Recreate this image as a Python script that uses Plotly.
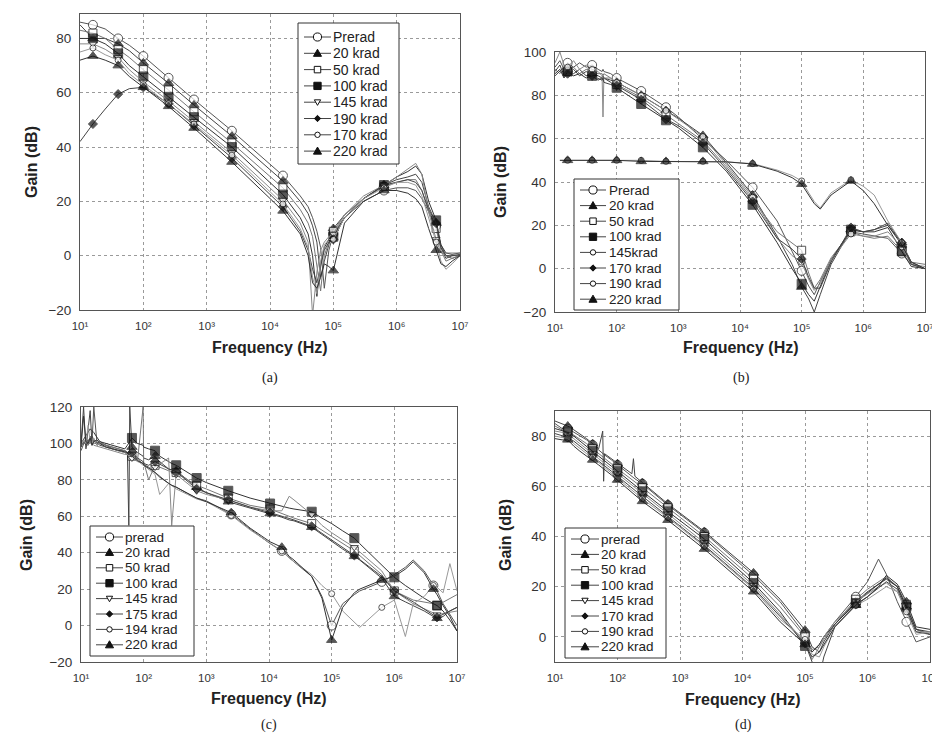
import plotly.graph_objects as go

W, H = 940, 734
FONT = "Liberation Sans, Arial, Helvetica, sans-serif"
SERIF = "Liberation Serif, Times New Roman, serif"

X_TICK_VALS = [10, 100, 1000, 10000, 100000, 1000000, 10000000]
X_TICK_TEXT = ["10\u00b9", "10\u00b2", "10\u00b3", "10\u2074", "10\u2075", "10\u2076", "10\u2077"]

# ---------------- panel (a) ----------------
A_FREQ = [10, 16, 25, 40, 60, 100, 250, 630, 2500, 16000, 30000, 40000, 47000, 55000, 63000,
          72000, 85000, 100000, 150000, 300000, 630000, 1000000, 1500000, 2000000, 2500000,
          3200000, 4200000, 5000000, 6000000, 7500000, 10000000]
A_MARK = [16, 40, 100, 250, 630, 2500, 16000, 100000, 630000, 4200000]
A_NAMES = ["Prerad", "20 krad", "50 krad", "100 krad", "145 krad", "190 krad", "170 krad", "220 krad"]
A_PRERAD = [86, 85, 83.5, 80, 77.5, 73.5, 65.5, 57.5, 46, 29.5, 22, 18, 14, 9, 3, -12, 2, 8, 14, 20,
            24, 25, 25, 24, 21, 16, 11, 4, 0, -1, 0]
A_20 = [85, 80, 80, 78, 75.5, 71, 63.5, 55.5, 44, 27.5, 20, 15.5, 11, 5, -8, -2, 4, 10, 15, 21,
        26, 28, 29, 30, 27, 18, 12, 3, -1, 0, 0.5]
A_50 = [83, 82, 80, 76, 73, 68.5, 61, 53, 41.5, 25, 17, 12, 7, -3, -13, 0, 5, 9, 15, 21,
        25.5, 27, 28, 28, 24, 16, 10, 2, -2, -1, 0]
A_100 = [80, 80, 78, 74.5, 70, 66, 58.5, 51, 40, 22.5, 14, 8, 0, -15, -3, 3, 6, 7, 14, 21,
         26, 29, 31, 33, 30, 20, 13, 4, 1, 0.5, 1]
A_145 = [78, 78, 76, 73, 68.5, 64, 57, 49.5, 38, 20.5, 12, 5, -22, -6, 2, 5, 7, 8, 15, 22,
         26, 29, 32, 34, 30, 16, 6, 1, 1, 1, 1]
A_190 = [42, 48.5, 54, 59.5, 61.5, 62, 56, 48, 36, 18, 9, 2, -5, -10, -4, 2, 5, 6, 14, 21,
         26, 27, 28, 27, 24, 17, 12, 3, 0, 0, 0]
A_170 = [75, 76.5, 74, 72, 67, 63, 56, 48.5, 37, 19, 10, 3, -8, -14, -2, 4, 6, 6, 14, 21,
         25, 27, 27, 26, 22, 14, 5, -2, -5, -3, 0]
A_220 = [72, 73.5, 72, 70, 66, 62, 55, 47, 34.5, 16.5, 8, 0, -10, -12, -8, -3, -4, -5.5, 12, 20,
         24, 24, 23, 21, 18, 10, 2, -3, -4, -2, 0]

# ---------------- panel (b) ----------------
B_FREQ = [10, 12, 14, 16, 20, 25, 32, 40, 50, 58, 60, 62, 80, 100, 250, 630, 1000, 2500, 6000,
          16000, 40000, 70000, 100000, 130000, 160000, 200000, 300000, 630000, 1000000, 1500000,
          2500000, 4200000, 6000000, 10000000]
B_MARK = [16, 40, 100, 250, 630, 2500, 16000, 100000, 630000, 4200000]
B_NAMES = ["Prerad", "20 krad", "50 krad", "100 krad", "145krad", "170 krad", "190 krad", "220 krad"]
B_PRERAD = [93, 96, 92, 95, 93, 95, 93, 94, 92, 91, 92, 91, 90, 88, 82, 74.5, 70, 60, 50, 37.5,
            22, 8, -1, -8, -12, -6, 4, 17, 16, 15, 14, 7, 2, 0]
B_20 = [91, 94, 89, 92, 90, 92, 89, 90, 89, 88, 89, 88, 87, 86, 80, 73, 69.5, 61.5, 49, 34,
        15, 2, -8.5, -14, -20, -12, 2, 18, 17, 18, 21, 12, 3, 0]
B_50 = [92, 90, 93, 91, 93, 90, 92, 91, 90, 90, 89, 90, 88, 85, 79, 71, 67, 59, 47, 32,
        17, 12, 8.5, -2, -9, -5, 5, 17, 15, 14, 15, 8, 3, 2]
B_100 = [90, 92, 88, 91, 89, 90, 88, 89, 87, 88, 87, 88, 86, 83.5, 76, 68.5, 65, 56, 45, 29.5,
         12, 0, -7, -12, -15, -8, 4, 18, 17, 17, 19, 8, 1, 0]
B_145 = [95, 100, 94, 93, 96, 92, 94, 92, 91, 89, 70, 88, 88, 86, 80, 73, 69, 61, 48, 33,
         14, 6, 3, -5, -10, -7, 4, 16, 15, 15, 17, 10, 2, 1]
B_170 = [89, 91, 93, 90, 92, 89, 91, 89, 88, 87, 88, 86, 85, 84.5, 78, 69, 66, 58, 46, 31,
         14, 9, 4.5, -4, -9, -9, 3, 19, 17, 18, 20, 12, 2, 0]
B_190 = [None, 50, 50, 50, 50, 50, 50, 50, 50, 50, 50, 50, 50, 50, 50, 49.5, 49.5, 49.5, 49.3, 48.5,
         45.5, 43, 40.5, 35, 31, 28, 35, 41, 38, 34, 22, 12, 3, 0]
B_220 = [None, 50, 50, 50, 50, 50, 50, 50, 50, 50, 50, 50, 50, 50, 49.5, 49.5, 49.5, 49.5, 49.3, 48.3,
         45, 42, 39, 34, 30, 27.5, 34, 40.5, 36, 30, 20, 11, 3, 0]

# ---------------- panel (c) ----------------
C_FREQ = [10, 11, 12, 13, 14, 15, 16, 18, 20, 25, 32, 40, 50, 55, 58, 60, 65, 80, 98, 100,
          120, 152, 180, 250, 280, 330, 500, 700, 1000, 2240, 2500, 5000, 10400, 16000, 21000,
          25000, 48000, 70000, 100000, 150000, 230000, 280000, 630000, 1000000, 1500000,
          2000000, 3000000, 4200000, 4800000, 6000000, 7700000, 10000000]
C_MARK_HI = [65, 152, 330, 700, 2240, 10400, 48000, 230000, 1000000, 4800000]
C_MARK_LO = [2500, 16000, 100000, 630000, 4200000]
C_NAMES = ["prerad", "20 krad", "50 krad", "100 krad", "145 krad", "175 krad", "194 krad", "220 krad"]
C_PRERAD = [96, 100, 103, 99, 104, 101, 120, 100, 101, 99, 98, 97, 96, 95, 94, 95, 94, 91, 89, 88.5,
            87, 84, 82, 78, 77, 76, 72.5, 70, 68.5, 62, 61, 53, 45, 41, 37, 35, 27, 16, 0, 12,
            17, 19, 24, 28, 32, 36, 30, 22, 19, 12, 6, 0]
C_20 = [98, 101, 99, 102, 100, 104, 102, 99, 100, 99, 97, 96, 96, 95, 55, 120, 98, 95, 93, 92,
        91, 93, 90, 86, 85.5, 85, 80, 76, 73, 68, 67.5, 64.5, 61.5, 59.5, 58, 57.5, 54, 50, 46, 42,
        38, 36, 26, 16, 13, 11, 8, 5, 4, 5, 8, 10]
C_50 = [None, None, 100, None, 103, None, 101, None, 100, 99, 98, 97, 96, 95, None, 96, 93, 91, 120, 90,
        80, 88, None, 85, None, 84, None, 77, 75, 70, None, 66, 64, None, None, 59, 56, None, 49, None,
        41, None, 28, 19, None, 14, None, 12, 11, None, None, 17]
C_100 = [100, None, 104, None, 108, None, 106, 103, 101, 100, 99, 98, 97, 99, 100, 101, 103, 100, 99, 98,
         97, 96, 93, 90, 89, 88, 84, 81, 78.5, 74, None, 70, 67, 65.5, 64.5, 64, 62.5, 59, 56, 52,
         48, 45, 33, 26.5, 22, 19, 15, 12, 11, 8, 3, -3]
C_145 = [None, None, 98, None, 101, None, 99, None, 98, 97, 96, 95, 94, 94, None, 93, 92, 90, 89, 88,
         86, 87, None, 92, 55, 83, None, 74, 72, 69, None, 65, 63, 63, 71, 69, 61, 55, 51, 47,
         43, None, 30, 19, None, 12, None, 7, 6, None, None, 8]
C_175 = [100, 120, 97, None, 118, 99, 102, None, 99, 98, 97, 96, 95, 94, None, 94, 95, 92, 90, 89,
         88, 90, None, 86, None, 84.5, None, 75, 73, 69, None, 65, 62, None, None, 58, 54.5, None, 47, None,
         38.5, None, 27, 19, None, 13, None, 6, 4.5, None, None, 10]
C_194 = [99, 102, 100, 110, 101, 100, 103, 99, 100, 98, 97, 96, 95, 94, 93, 94, 93, 90, 88, 88,
         86, 83, 72, 78, 77, 75, 72, 69.5, 68, 61.5, 60.5, 52.5, 45, 41, 37, 35, 28, 22, 17.5, 8,
         2, -1, 10, 14, -6, 12, 16, 22, 21, 18, 34, 19]
C_220 = [98, 115, 101, 100, 103, 99, 101, 102, 100, 98, 97, 96, 95, 95, 94, 94, 93, 90.5, 89, 88,
         86.5, 84, 81.5, 78, 77, 76, 72.5, 70, 68, 62.5, 62, 53.5, 46, 43, 38, 36, 27, 15, -8, 10,
         18, 20, 25, 27, 31, 35, 29, 20, 17, 11, 5, -3]

# ---------------- panel (d) ----------------
D_FREQ = [10, 13, 16, 20, 25, 32, 40, 50, 58, 60, 62, 80, 100, 170, 180, 190, 250, 640, 2450, 15000,
          40000, 100000, 130000, 170000, 200000, 300000, 650000, 1000000, 1500000, 2000000,
          3000000, 4200000, 6000000, 10000000]
D_MARK = [16, 40, 100, 250, 640, 2450, 15000, 100000, 650000, 4200000]
D_NAMES = ["prerad", "20 krad", "50 krad", "100 krad", "145 krad", "170 krad", "190 krad", "220 krad"]
D_PRERAD = [85, 83, 83, 81.5, 80, 78.5, 76.5, 74.5, 73, 73, 72.5, 70.5, 68.5, 64, 63.5, 63, 61, 52.5, 41.5, 24.5,
            14, 1, -6, -3, 0, 6, 16, 22, 31, 25, 14, 6, -2, 0]
D_20 = [86, 85, 84, 82.5, 81, 79, 77, 75, 82, 62, 73, 71, 69, 65, 71, 64, 61.5, 53, 42, 25.5,
        15, 2.7, -4, -6, -2, 5, 14, 18, 21, 23, 20, 12, 3, 1]
D_50 = [84, 82.5, 82, 80.5, 79, 77, 75, 73, None, None, None, 69, 67, None, None, None, 59.5, 51.5, 40, 23,
        12, 0, -5, -4, -1, 5, 15, 19, 22, 24, 20, 13, 3, 1]
D_100 = [83, 82, 81.5, 80, 78, 76, 74, 72, None, None, None, 68, 66, None, None, None, 58, 50, 39, 21.5,
         10, -3.6, -6, -3, 0, 5, 13.5, 17.5, 21, 23.5, 20, 12, 3, 2]
D_145 = [82, 81.5, 80.5, 79, 77, 75, 73, 71, None, None, None, 67, 65, None, None, None, 57, 49, 37.5, 20.5,
         9, -2, -9, -4, 0, 6, 14, 17, 20, 21.5, 18, 11, 2, 2]
D_170 = [81, 80, 79.5, 78, 76, 74, 72, 70, None, None, None, 66, 64, None, None, None, 56, 48, 36.5, 19.5,
         8, -2.5, -10, -16, -8, 4, 13, 16, 19.5, 22, 19, 11, 2, 1]
D_190 = [80, 79.5, 79, 77, 75, 73, 71.5, 69.5, None, None, None, 65, 63, None, None, None, 55, 47.5, 36, 19,
         7, -1, -7, -8, -4, 4, 12.5, 15, 18, 20, 18, 10, 1, 2]
D_220 = [79, 78.5, 78.5, 76, 74, 72, 70.5, 68.5, None, None, None, 64.5, 62.5, None, None, None, 54, 46.5, 35, 18,
         6, -3, -8, -6, -3, 4, 12.6, 16, 20, 24.5, 21, 14, 4, 3]

# ---------------- styles ----------------
MARKERS = {
    "o": dict(symbol="circle", color="white", size=9),
    "^": dict(symbol="triangle-up", color="#111", size=9),
    "s": dict(symbol="square", color="white", size=8),
    "S": dict(symbol="square", color="#111", size=9),
    "v": dict(symbol="triangle-down", color="white", size=7),
    "D": dict(symbol="diamond", color="#111", size=7),
    "c": dict(symbol="circle", color="white", size=6),
}
LINE_COLORS = ["#555", "#444", "#777", "#333", "#888", "#444", "#999", "#333"]


def X(px):
    return px / W


def Y(py):
    return 1 - py / H


PANELS = [
    dict(label="(a)", freq=A_FREQ, names=A_NAMES,
         series=[A_PRERAD, A_20, A_50, A_100, A_145, A_190, A_170, A_220],
         marks=[A_MARK] * 8, styles=["o", "^", "s", "S", "v", "D", "c", "^"],
         xdom=(72, 452), ydom=(6, 302), yrange=(-20, 89), yticks=[-20, 0, 20, 40, 60, 80],
         gain=(23, 154), freqlab=(262, 340), cap=(262, 370),
         leg=dict(box=(290, 15, 391, 156), y0=29, dy=16.3, lx=(296, 323), tx=324, fs=14)),
    dict(label="(b)", freq=B_FREQ, names=B_NAMES,
         series=[B_PRERAD, B_20, B_50, B_100, B_145, B_170, B_190, B_220],
         marks=[B_MARK] * 8, styles=["o", "^", "s", "S", "c", "D", "c", "^"],
         xdom=(547, 917), ydom=(44, 304), yrange=(-20, 100), yticks=[-20, 0, 20, 40, 60, 80, 100],
         gain=(492, 174), freqlab=(733, 340), cap=(733, 370),
         leg=dict(box=(566, 171, 671, 302), y0=182, dy=15.6, lx=(572, 598), tx=600, fs=13.5)),
    dict(label="(c)", freq=C_FREQ, names=C_NAMES,
         series=[C_PRERAD, C_20, C_50, C_100, C_145, C_175, C_194, C_220],
         marks=[C_MARK_LO, C_MARK_HI, C_MARK_HI, C_MARK_HI, C_MARK_HI, C_MARK_HI, C_MARK_LO, C_MARK_LO],
         styles=["o", "^", "s", "S", "v", "D", "c", "^"],
         xdom=(73, 449), ydom=(399, 654), yrange=(-20, 120), yticks=[-20, 0, 20, 40, 60, 80, 100, 120],
         gain=(18, 527), freqlab=(261, 690), cap=(261, 717),
         leg=dict(box=(82, 518, 186, 648), y0=529, dy=15.4, lx=(88, 115), tx=116, fs=13.5)),
    dict(label="(d)", freq=D_FREQ, names=D_NAMES,
         series=[D_PRERAD, D_20, D_50, D_100, D_145, D_170, D_190, D_220],
         marks=[D_MARK] * 8, styles=["o", "^", "s", "S", "v", "D", "c", "^"],
         xdom=(547, 922), ydom=(403, 654), yrange=(-10, 90), yticks=[0, 20, 40, 60, 80],
         gain=(497, 527), freqlab=(735, 691), cap=(735, 717),
         leg=dict(box=(557, 520, 658, 650), y0=531, dy=15.4, lx=(563, 591), tx=592, fs=13.5)),
]


def marker_shape(key, cx, cy):
    m = MARKERS[key]
    r = m["size"] / 2.0 * 0.9
    base = dict(xref="paper", yref="paper", fillcolor=m["color"], line=dict(color="#111", width=1),
                layer="above")
    sym = m["symbol"]
    if sym == "circle":
        return dict(type="circle", x0=X(cx - r), x1=X(cx + r), y0=Y(cy + r), y1=Y(cy - r), **base)
    if sym == "square":
        r *= 0.9
        return dict(type="rect", x0=X(cx - r), x1=X(cx + r), y0=Y(cy + r), y1=Y(cy - r), **base)
    if sym == "triangle-up":
        pts = [(cx, cy - r), (cx + r, cy + r * 0.75), (cx - r, cy + r * 0.75)]
    elif sym == "triangle-down":
        pts = [(cx, cy + r), (cx + r, cy - r * 0.75), (cx - r, cy - r * 0.75)]
    else:
        pts = [(cx, cy - r), (cx + r, cy), (cx, cy + r), (cx - r, cy)]
    path = "M " + " L ".join(f"{X(a):.5f} {Y(b):.5f}" for a, b in pts) + " Z"
    return dict(type="path", path=path, **base)


fig = go.Figure()
shapes, annos = [], []
layout_axes = {}

for i, p in enumerate(PANELS):
    n = "" if i == 0 else str(i + 1)
    xa, ya = "x" + n, "y" + n
    for k, (name, vals, mk, st) in enumerate(zip(p["names"], p["series"], p["marks"], p["styles"])):
        m = MARKERS[st]
        sizes = [m["size"] if f in mk else 0 for f in p["freq"]]
        fig.add_trace(go.Scatter(
            x=p["freq"], y=vals, name=name, mode="lines+markers", connectgaps=True,
            xaxis=xa, yaxis=ya, showlegend=False,
            line=dict(color=LINE_COLORS[k], width=1),
            marker=dict(symbol=m["symbol"], color=m["color"], size=sizes,
                        line=dict(color="#111", width=1)),
        ))
    axis_common = dict(showgrid=True, gridcolor="#9a9a9a", griddash="dot", gridwidth=1,
                       showline=True, linecolor="#555", linewidth=1, mirror=True, zeroline=False,
                       ticks="outside", ticklen=5, tickcolor="rgba(0,0,0,0)",
                       ticklabeloverflow="allow")
    layout_axes["xaxis" + n] = dict(
        type="log", range=[1, 7], tickmode="array", tickvals=X_TICK_VALS, ticktext=X_TICK_TEXT,
        tickfont=dict(family=FONT, size=11.5, color="#333"),
        domain=[X(p["xdom"][0]), X(p["xdom"][1])], anchor=ya, **axis_common)
    layout_axes["yaxis" + n] = dict(
        range=list(p["yrange"]), tickmode="array", tickvals=p["yticks"],
        tickfont=dict(family=FONT, size=13.5, color="#333"),
        domain=[Y(p["ydom"][1]), Y(p["ydom"][0])], anchor=xa, **axis_common)

    gx, gy = p["gain"]
    annos.append(dict(text="<b>Gain (dB)</b>", x=X(gx), y=Y(gy), xref="paper", yref="paper",
                      textangle=-90, showarrow=False, xanchor="center", yanchor="middle",
                      font=dict(family=FONT, size=16, color="#222")))
    fx, fy = p["freqlab"]
    annos.append(dict(text="<b>Frequency (Hz)</b>", x=X(fx), y=Y(fy), xref="paper", yref="paper",
                      showarrow=False, xanchor="center", yanchor="middle",
                      font=dict(family=FONT, size=16, color="#222")))
    cx, cy = p["cap"]
    annos.append(dict(text=p["label"], x=X(cx), y=Y(cy), xref="paper", yref="paper",
                      showarrow=False, xanchor="center", yanchor="middle",
                      font=dict(family=SERIF, size=14, color="#222")))

    g = p["leg"]
    bx0, by0, bx1, by1 = g["box"]
    shapes.append(dict(type="rect", xref="paper", yref="paper", x0=X(bx0), x1=X(bx1),
                       y0=Y(by1), y1=Y(by0), line=dict(color="#333", width=1),
                       fillcolor="white", layer="above"))
    for k, (name, st) in enumerate(zip(p["names"], p["styles"])):
        yy = g["y0"] + k * g["dy"]
        lx0, lx1 = g["lx"]
        shapes.append(dict(type="line", xref="paper", yref="paper", x0=X(lx0), x1=X(lx1),
                           y0=Y(yy), y1=Y(yy), line=dict(color="#444", width=1), layer="above"))
        shapes.append(marker_shape(st, (lx0 + lx1) / 2.0, yy))
        annos.append(dict(text=name, x=X(g["tx"]), y=Y(yy), xref="paper", yref="paper",
                          showarrow=False, xanchor="left", yanchor="middle", borderpad=0,
                          font=dict(family=FONT, size=g["fs"], color="#222")))

fig.update_layout(
    width=W, height=H, margin=dict(l=0, r=0, t=0, b=0),
    template="none", paper_bgcolor="white", plot_bgcolor="white",
    showlegend=False, shapes=shapes, annotations=annos, **layout_axes,
)

fig.write_html("out.html")
